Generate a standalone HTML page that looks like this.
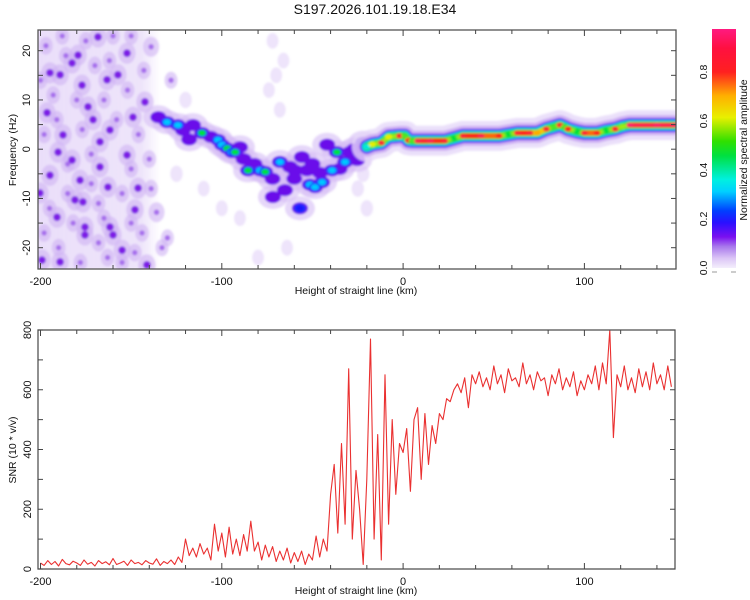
<!DOCTYPE html>
<html><head><meta charset="utf-8"><style>
html,body{margin:0;padding:0;background:#fff}
svg{display:block;font-family:"Liberation Sans",Arial,sans-serif}
</style></head><body>
<svg id="chart" width="750" height="600" viewBox="0 0 750 600">
<defs>
<clipPath id="clipTop"><rect x="38" y="30" width="638" height="239"/></clipPath>
<clipPath id="clipBot"><rect x="38" y="330" width="637" height="239"/></clipPath>
<linearGradient id="cbGrad" x1="0" y1="1" x2="0" y2="0">
<stop offset="0" stop-color="#f4eefc"/><stop offset="0.04" stop-color="#dcc6f6"/><stop offset="0.09" stop-color="#a878ec"/>
<stop offset="0.13" stop-color="#7a10f0"/><stop offset="0.19" stop-color="#2a10ff"/><stop offset="0.24" stop-color="#0040ff"/>
<stop offset="0.32" stop-color="#00d0ff"/><stop offset="0.37" stop-color="#00f0e0"/><stop offset="0.47" stop-color="#00e040"/>
<stop offset="0.53" stop-color="#30e000"/><stop offset="0.63" stop-color="#e8f000"/><stop offset="0.72" stop-color="#ffb000"/>
<stop offset="0.82" stop-color="#ff2020"/><stop offset="0.92" stop-color="#ff1040"/><stop offset="1" stop-color="#ff1a80"/>
</linearGradient>
<linearGradient id="noiseBase" x1="0" y1="0" x2="1" y2="0">
<stop offset="0" stop-color="#d9c4f5" stop-opacity="0.55"/><stop offset="0.85" stop-color="#d9c4f5" stop-opacity="0.45"/><stop offset="1" stop-color="#d9c4f5" stop-opacity="0"/>
</linearGradient>
<filter id="soft" x="-5%" y="-5%" width="110%" height="110%"><feGaussianBlur stdDeviation="1.1"/></filter>
</defs>
<text x="375" y="14" text-anchor="middle" font-size="14" fill="#111">S197.2026.101.19.18.E34</text>
<g id="topPlot"></g>
<g id="botPlot"></g>
<g id="colorbar"></g>
</svg>
<script>
// ---------- SNR data ----------
const snrStart = -200;
const snrStep = 2;
const snrValues = [
20,12,28,15,25,10,32,18,14,26,20,12,30,16,22,10,28,18,24,14,35,15,20,26,12,30,18,22,14,28,20,16,34,12,25,18,30,15,40,22,
100,45,70,40,85,50,70,30,150,60,120,40,140,50,100,45,115,60,160,
60,90,30,80,40,75,25,60,30,70,20,55,25,60,15,50,30,110,40,100,60,
250,350,120,420,150,670,100,330,200,15,300,770,100,450,30,650,150,500,250,420,
390,470,260,500,540,300,520,350,480,420,520,500,570,560,600,620,590,640,540,650,620,
660,610,640,600,680,620,650,590,670,630,640,610,690,620,650,600,660,630,640,580,650,620,670,600,640,610,660,580,630,600,650,620,680,600,690,
620,800,440,650,610,680,600,640,590,670,610,660,600,690,620,650,600,680,610];
const xTickLabels = ["-200","-100","0","100"];
const xTickValues = [-200,-100,0,100];
const freqTickValues = [20,10,0,-10,-20];
const snrTickValues = [0,200,400,600,800];
const cbTickValues = [0.0,0.2,0.4,0.6,0.8];
// ---------- spectrogram data ----------
const noiseRegion = [-203, -134];
const ridgeH = [-20,-17,-12,-8,-2,1,3,5,8,15,23,28,33,43,53,58,63,70,74,79,83,86.5,89,91,96,100,107,112,117,121,125,140,150];
const ridgeF = [0.5,1.0,1.3,2.5,2.7,2.7,1.8,1.7,1.7,1.7,1.7,2.2,2.7,2.7,2.7,3.0,3.3,3.3,3.3,4.1,4.5,4.9,4.5,4.1,3.6,3.3,3.3,3.8,4.1,4.6,4.9,4.9,4.9];
const ridgeAmp = [0.35,0.6,0.85,0.6,0.85,0.5,0.8,0.5,0.9,0.9,0.85,0.45,0.85,0.9,0.8,0.45,0.85,0.85,0.7,0.85,0.5,0.85,0.5,0.8,0.45,0.85,0.8,0.45,0.85,0.55,0.95,0.95,0.95];
const blobH = [-135,-130.2,-124.2,-121.4,-115.9,-110.9,-102.1,-99.9,-97.1,-94.4,-92.7,-90,-85.5,-78.9,-76.1,-67.9,-62.4,-59.6,-53,-55.8,-51.4,-48.6,-44.7,-45.8,-39.2,-36.5,-32,-29.3,-25.4,-22.1,-56.9,-65.2,-71.8,-41.9,-106,-118,-88,-82,-72,-60,-50,-35,-27];
const blobF = [6.5,5.5,4.9,3.9,4.9,3.3,1.9,0.9,0.2,-0.6,-0.6,0.4,-4.3,-4.3,-4.6,-2.6,-3.6,-4.3,-4.3,-1.6,-7.2,-7.7,-6.7,-4.8,-4.3,-0.6,-2.6,-0.6,-2.2,1.3,-12,-8.3,-9.7,0.9,2.5,2,-2,-3,-6,-6,-3,-4,0];
const blobAmp = [0.15,0.3,0.3,0.15,0.15,0.45,0.3,0.3,0.45,0.3,0.45,0.15,0.45,0.3,0.45,0.3,0.15,0.15,0.15,0.15,0.3,0.3,0.3,0.15,0.3,0.45,0.3,0.15,0.15,0.45,0.2,0.12,0.09,0.15,0.12,0.12,0.12,0.12,0.1,0.1,0.1,0.1,0.1];
const noiseH = [-182.6,-177.1,-194.8,-189.2,-168.3,-157.3,-163.3,-149,-142.4,-167.2,-194.8,-178.2,-162.8,-176.6,-190.9,-175.5,-161.7,-160,-155,-199.2,-189.2,-147.9,-136,-141.3,-167.2,-171,-190.3,-182.6,-152.3,-200.3,-181,-179.3,-196.4,-187.6,-146.2,-139,-152.3,-173.8,-161.7,-175.5,
-197,-188,-175,-160,-150,-143,-186,-170,-152,-193,-180,-165,-146,-198,-177,-158,-185,-172,-150,-140,-195,-185,-168,-155,-144,-198,-182,-168,-150,-190,-178,-163,-148,-139,-165,-200,-155,-172,-191,-162,
-72,-70,-68,-74,-66,-64,-80,-90,-100,-110,-120,-125,-25,-20,-22,-130,-128,-133];
const noiseF = [17.5,13,15.5,15.1,22.8,15.1,14.1,6.5,9.6,-3.6,-5.3,-6.3,-7.7,-10.7,-13.8,-17.4,-15.8,-17.4,-20.5,-22.5,-22.9,-12.3,-12.8,-23.5,1.5,6,-0.6,-2.2,-1.2,-8.9,-10.3,19.1,7.4,2.9,-7.9,20.8,19.5,8.6,3.9,-15.8,
21,23,22,23,23,16,19,17,12,11,10,10,3,3,4,6,-3,-1,-4,-2,-12,-9,-11,-9,-17,-17,-15,-19,-15,-20,-23,-22,-21,-8,-14,14,-23,-7,6,18,
22,15,8,12,18,-20,-22,-14,-12,-8,10,-5,-8,-12,-5,-18,14,-20];
const noiseAmp = [0.12,0.12,0.12,0.12,0.12,0.12,0.12,0.12,0.12,0.12,0.12,0.12,0.12,0.12,0.12,0.12,0.12,0.12,0.12,0.12,0.12,0.12,0.1,0.12,0.12,0.12,0.12,0.12,0.12,0.12,0.12,0.12,0.12,0.12,0.12,0.1,0.12,0.12,0.12,0.12,
0.06,0.06,0.06,0.06,0.06,0.06,0.06,0.06,0.06,0.06,0.06,0.06,0.06,0.06,0.06,0.06,0.06,0.06,0.06,0.06,0.06,0.06,0.06,0.06,0.06,0.06,0.06,0.06,0.06,0.06,0.06,0.06,0.06,0.06,0.06,0.06,0.06,0.06,0.06,0.06,
0.03,0.03,0.03,0.03,0.03,0.03,0.03,0.03,0.03,0.03,0.04,0.04,0.04,0.04,0.04,0.05,0.05,0.05];

const NS = "http://www.w3.org/2000/svg";
const xs = h => 40.5 + (h + 200) * 1.813;
const yTop = f => 149.2 - f * 4.925;
const yBot = v => 569 - v * 239 / 800;
const cbY = a => 268 - a * 245;
function mk(parent, tag, attrs) {
  const e = document.createElementNS(NS, tag);
  for (const k in attrs) e.setAttribute(k, attrs[k]);
  parent.appendChild(e);
  return e;
}
function cmap(a) {
  const stops = [[0,[244,238,252]],[0.05,[215,190,245]],[0.1,[150,80,232]],[0.15,[110,10,240]],[0.2,[30,20,255]],[0.3,[0,200,255]],[0.36,[0,240,220]],[0.45,[0,225,60]],[0.6,[232,240,0]],[0.7,[255,170,0]],[0.8,[255,30,30]],[1,[255,26,128]]];
  a = Math.max(0, Math.min(1, a));
  for (let i = 1; i < stops.length; i++) {
    if (a <= stops[i][0]) {
      const t = (a - stops[i-1][0]) / (stops[i][0] - stops[i-1][0]);
      const c = stops[i-1][1].map((v, j) => Math.round(v + t * (stops[i][1][j] - v)));
      return `rgb(${c[0]},${c[1]},${c[2]})`;
    }
  }
  return "rgb(255,26,128)";
}

// ---------- top panel ----------
const topG = document.getElementById('topPlot');
mk(topG, 'rect', {x:38, y:30, width:638, height:239, fill:'#fff'});
const spec = mk(topG, 'g', {'clip-path':'url(#clipTop)'});
const specIn = mk(spec, 'g', {filter:'url(#soft)'});
const base = mk(specIn, 'rect', {x:xs(noiseRegion[0]), y:30, width:xs(noiseRegion[1]) - xs(noiseRegion[0]), height:239, fill:'url(#noiseBase)'});


for (let i = 0; i < noiseH.length; i++) {
  const a = noiseAmp[i];
  const h1 = mk(specIn, 'ellipse', {cx:xs(noiseH[i]), cy:yTop(noiseF[i]), rx:5 + a*30, ry:7 + a*30, fill:'#cfb2f3', opacity:a < 0.05 ? 0.35 : 0.6});
  
  
}
for (let i = 0; i < noiseH.length; i++) {
  const a = noiseAmp[i];
  if (a < 0.05) continue;
  const c = mk(specIn, 'circle', {cx:xs(noiseH[i]), cy:yTop(noiseF[i]), r:a > 0.1 ? 3.8 : 2.6, fill:a > 0.1 ? '#7d1ee6' : '#a56cec'});
  
  
}
for (let i = 0; i < blobH.length; i++) {
  const h = mk(specIn, 'ellipse', {cx:xs(blobH[i]), cy:yTop(blobF[i]), rx:15, ry:12, fill:'#d6bdf5', opacity:0.6});
  
  
}
for (let i = 0; i < blobH.length; i++) {
  const p = mk(specIn, 'ellipse', {cx:xs(blobH[i]), cy:yTop(blobF[i]), rx:8, ry:6, fill:'#6a10ea'});
  
  
}
for (let i = 0; i < blobH.length; i++) {
  const a = blobAmp[i];
  if (a < 0.2) continue;
  const cx = xs(blobH[i]), cy = yTop(blobF[i]);
  mk(specIn, 'ellipse', {cx:cx, cy:cy, rx:6, ry:4.5, fill:'#1830ff'});
  const c = mk(specIn, 'ellipse', {cx:cx, cy:cy, rx:4, ry:3, fill:cmap(a)});
  
  
}
let d = '';
for (let i = 0; i < ridgeH.length; i++) d += (i ? 'L' : 'M') + xs(ridgeH[i]).toFixed(1) + ' ' + yTop(ridgeF[i]).toFixed(1);
const layers = [[30,'#e6d8f9',0.8],[20,'#c9a8f2',0.85],[14,'#6a10ea',1],[12,'#1a30ff',1],[10,'#00d8ff',1],[8,'#20e030',1]];
layers.forEach(l => {
  const p = mk(specIn, 'path', {d:d, fill:'none', stroke:l[1], 'stroke-width':l[0], opacity:l[2], 'stroke-linejoin':'round', 'stroke-linecap':'round'});
  
  
});
for (let i = 0; i < ridgeH.length - 1; i++) {
  const a = Math.min(ridgeAmp[i], ridgeAmp[i+1]);
  const seg = mk(specIn, 'line', {x1:xs(ridgeH[i]), y1:yTop(ridgeF[i]), x2:xs(ridgeH[i+1]), y2:yTop(ridgeF[i+1]), stroke:cmap(a > 0.6 ? a - 0.05 : 0.55), 'stroke-width':a > 0.6 ? 5 : 4, 'stroke-linecap':'round'});
  
  
}
for (let i = 0; i < ridgeH.length; i++) {
  const c = mk(specIn, 'ellipse', {cx:xs(ridgeH[i]), cy:yTop(ridgeF[i]), rx:3.5, ry:2.6, fill:cmap(ridgeAmp[i])});
  
  
}

function drawFrame(g, x0, y0, x1, y1, yfun, yMinor) {
  const f = mk(g, 'rect', {x:x0, y:y0, width:x1-x0, height:y1-y0, fill:'none', stroke:'#555', 'stroke-width':1.3});
  
  
  for (let h = -200; h <= 140; h += 20) {
    const x = xs(h), L = (h % 100 === 0) ? 6 : 4;
    mk(g, 'line', {x1:x, y1:y1, x2:x, y2:y1-L, stroke:'#444'});
    mk(g, 'line', {x1:x, y1:y0, x2:x, y2:y0+L, stroke:'#444'});
  }
  yMinor.forEach(v => {
    const y = yfun(v);
    mk(g, 'line', {x1:x0, y1:y, x2:x0+5, y2:y, stroke:'#444'});
    mk(g, 'line', {x1:x1, y1:y, x2:x1-5, y2:y, stroke:'#444'});
  });
  xTickValues.forEach((v, i) => {
    const t = mk(g, 'text', {x:xs(v), y:y1+16, 'text-anchor':'middle', 'font-size':11, fill:'#111'});
    t.textContent = xTickLabels[i];
    
    
  });
  const xt2 = mk(g, 'text', {x:356, y:y1+25, 'text-anchor':'middle', 'font-size':10.5, fill:'#111'});
  xt2.textContent = 'Height of straight line (km)';
  
  
}
const fMinor = [];
for (let v = -20; v <= 20; v += 5) fMinor.push(v);
drawFrame(topG, 38, 30, 676, 269, yTop, fMinor);
freqTickValues.forEach(v => {
  const t = mk(topG, 'text', {x:0, y:0, transform:`translate(30 ${yTop(v)}) rotate(-90)`, 'text-anchor':'middle', 'font-size':11, fill:'#111'});
  t.textContent = String(v);
  
  
});
const ft = mk(topG, 'text', {x:0, y:0, transform:'translate(16 150) rotate(-90)', 'text-anchor':'middle', 'font-size':10.5, fill:'#111'});
ft.textContent = 'Frequency (Hz)';



// ---------- bottom panel ----------
const botG = document.getElementById('botPlot');
const lineG = mk(botG, 'g', {'clip-path':'url(#clipBot)'});
let pd = '';
snrValues.forEach((v, i) => {
  pd += (i ? 'L' : 'M') + xs(snrStart + i * snrStep).toFixed(1) + ' ' + yBot(v).toFixed(1);
});
const ln = mk(lineG, 'path', {d:pd, fill:'none', stroke:'#ea3030', 'stroke-width':1.1, 'stroke-linejoin':'round'});


const sMinor = [];
for (let v = 0; v <= 800; v += 100) sMinor.push(v);
drawFrame(botG, 38, 330, 675, 569, yBot, sMinor);
snrTickValues.forEach(v => {
  const t = mk(botG, 'text', {x:0, y:0, transform:`translate(31 ${yBot(v)}) rotate(-90)`, 'text-anchor':'middle', 'font-size':11, fill:'#111'});
  t.textContent = String(v);
  
  
});
const snrTitle = mk(botG, 'text', {x:0, y:0, transform:'translate(16 450) rotate(-90)', 'text-anchor':'middle', 'font-size':10.5, fill:'#111'});
snrTitle.textContent = 'SNR (10 * v/v)';



// ---------- colorbar ----------
const cbG = document.getElementById('colorbar');
const cbRect = mk(cbG, 'rect', {x:712, y:29, width:24, height:239, fill:'url(#cbGrad)'});


mk(cbG, 'line', {x1:712, y1:272, x2:717, y2:272, stroke:'#999'});
mk(cbG, 'line', {x1:731, y1:272, x2:736, y2:272, stroke:'#999'});
cbTickValues.forEach(v => {
  const t = mk(cbG, 'text', {x:0, y:0, transform:`translate(707 ${cbY(v)}) rotate(-90)`, 'text-anchor':'middle', 'font-size':10.5, fill:'#111'});
  t.textContent = v.toFixed(1);
  
  
});
const cbt = mk(cbG, 'text', {x:0, y:0, transform:'translate(747 150) rotate(-90)', 'text-anchor':'middle', 'font-size':10.5, fill:'#111'});
cbt.textContent = 'Normalized spectral amplitude';


</script>
</body></html>
